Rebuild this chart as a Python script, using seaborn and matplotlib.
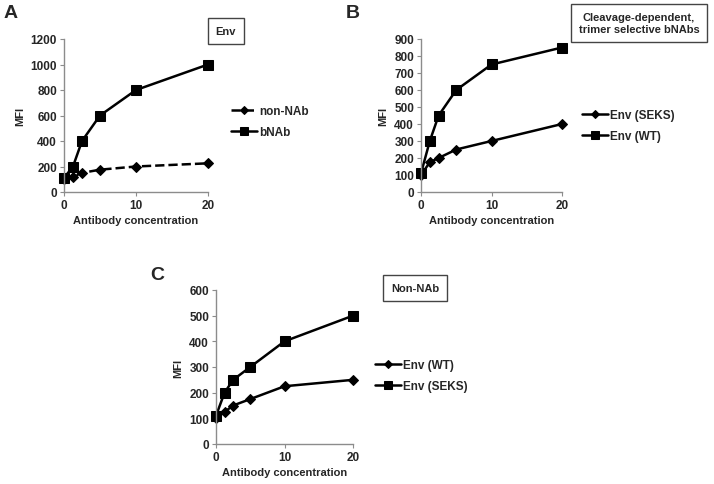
import seaborn as sns
import matplotlib.pyplot as plt
import pandas as pd

# antibody concentrations (shared by all panels)
conc = [0, 1.25, 2.5, 5, 10, 20]

# panel A - Env
a_nonnab = [100, 120, 150, 175, 200, 225]
a_bnab = [110, 200, 400, 600, 800, 1000]

# panel B - cleavage-dependent, trimer selective bNAbs
b_seks = [100, 175, 200, 250, 300, 400]
b_wt = [110, 300, 450, 600, 750, 850]

# panel C - non-NAb
c_wt = [100, 125, 150, 175, 225, 250]
c_seks = [110, 200, 250, 300, 400, 500]

sns.set_style('white')
plt.rcParams['font.family'] = ['Liberation Sans', 'DejaVu Sans']
plt.rcParams['font.weight'] = 'bold'

fig = plt.figure(figsize=(7.14, 4.85), dpi=100)
W, H = 714, 485


def add_axes(l, t, r, b):
    return fig.add_axes([l / W, 1 - b / H, (r - l) / W, (b - t) / H])


def draw(ax, series, ymax, ystep):
    for vals, label, marker, ms, ls in series:
        df = pd.DataFrame({'conc': conc, 'mfi': vals})
        sns.lineplot(data=df, x='conc', y='mfi', ax=ax, color='black', lw=1.8,
                     marker=marker, markersize=ms, linestyle=ls, label=label,
                     clip_on=False, markeredgecolor='black')
    ax.set_xlim(0, 20)
    ax.set_ylim(0, ymax)
    ax.set_xticks([0, 10, 20])
    ax.set_yticks(range(0, ymax + 1, ystep))
    for s in ['top', 'right']:
        ax.spines[s].set_visible(False)
    for s in ['left', 'bottom']:
        ax.spines[s].set_color('#8c8c8c')
        ax.spines[s].set_linewidth(1)
    ax.tick_params(axis='both', length=3, color='#8c8c8c', direction='out',
                   labelsize=8.5, pad=2, left=True, bottom=True)
    for lab in ax.get_xticklabels() + ax.get_yticklabels():
        lab.set_fontweight('bold')
    ax.set_xlabel('Antibody concentration', fontsize=8, fontweight='bold', labelpad=3)
    ax.set_ylabel('MFI', fontsize=8, fontweight='bold', labelpad=4)
    ax.get_legend().remove()


def legend(ax, x, y, gap):
    h, l = ax.get_legend_handles_labels()
    fig.legend(h, l, loc='upper left', bbox_to_anchor=(x / W, 1 - y / H),
               frameon=False, handlelength=2.2, handletextpad=0.2,
               labelspacing=gap, borderaxespad=0, borderpad=0,
               markerscale=0.8, prop={'weight': 'bold', 'size': 8.5})


def box(x, y, text):
    fig.text(x / W, 1 - y / H, text, ha='center', va='center', fontsize=8,
             fontweight='bold', linespacing=1.2,
             bbox=dict(boxstyle='square,pad=0.7', fc='white', ec='#444444', lw=1))


# Panel A
axA = add_axes(64, 40, 208, 193)
draw(axA, [(a_nonnab, 'non-NAb', 'D', 5, '--'),
           (a_bnab, 'bNAb', 's', 6.5, '-')], 1200, 200)
legend(axA, 231, 106, 0.8)
box(226, 32, 'Env')
fig.text(4 / W, 1 - 13 / H, 'A', fontsize=14, fontweight='bold', va='center')

# Panel B
axB = add_axes(421, 40, 562, 193)
draw(axB, [(b_seks, 'Env (SEKS)', 'D', 5, '-'),
           (b_wt, 'Env (WT)', 's', 6.5, '-')], 900, 100)
legend(axB, 582, 110, 0.8)
box(639, 24, 'Cleavage-dependent,\ntrimer selective bNAbs')
fig.text(346 / W, 1 - 13 / H, 'B', fontsize=14, fontweight='bold', va='center')

# Panel C
axC = add_axes(216, 291, 353, 445)
draw(axC, [(c_wt, 'Env (WT)', 'D', 5, '-'),
           (c_seks, 'Env (SEKS)', 's', 6.5, '-')], 600, 100)
legend(axC, 375, 360, 0.8)
box(415, 289, 'Non-NAb')
fig.text(150 / W, 1 - 276 / H, 'C', fontsize=14, fontweight='bold', va='center')

fig.savefig('out.png', dpi=100)
